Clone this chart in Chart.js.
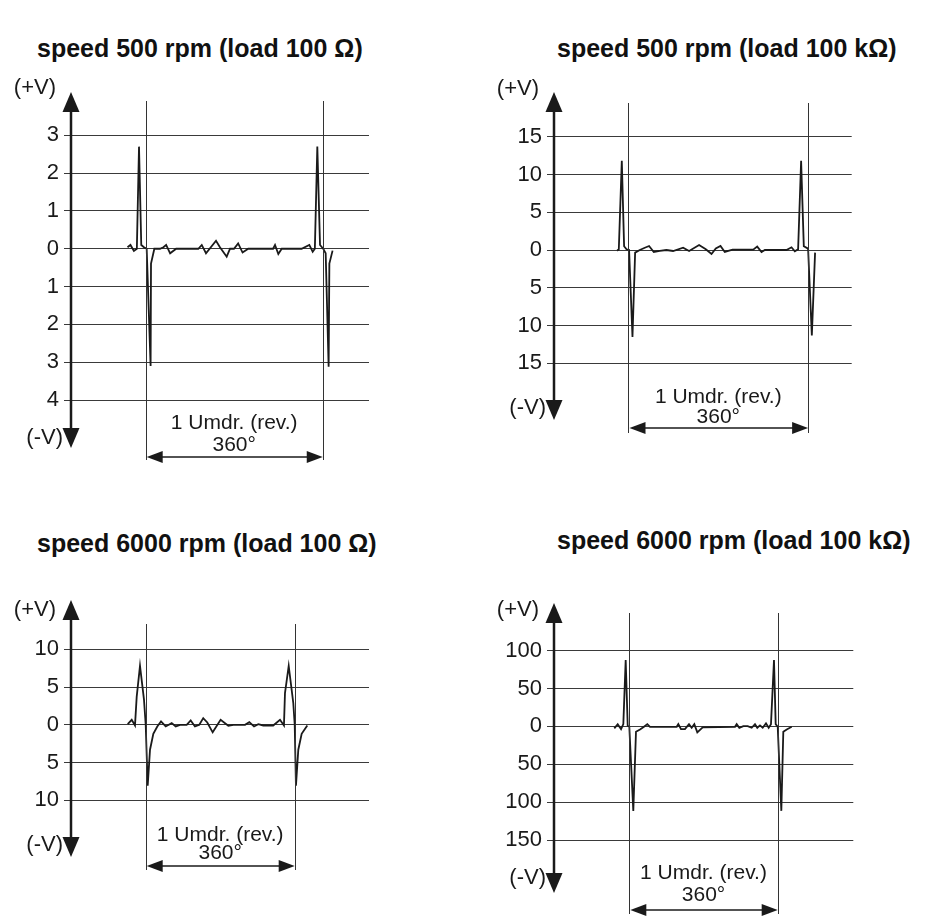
<!DOCTYPE html>
<html>
<head>
<meta charset="utf-8">
<script src="https://cdn.jsdelivr.net/npm/chart.js@4.4.1/dist/chart.umd.min.js"></script>
<style>
  html, body { margin: 0; padding: 0; background: #fff; }
  #page { position: relative; width: 939px; height: 916px; overflow: hidden; }
  canvas { position: absolute; }
  .title {
    position: absolute; white-space: nowrap;
    font: bold 25px 'Liberation Sans', Arial, sans-serif; color: #111;
    transform: translateY(-50%);
  }
</style>
</head>
<body>
<div id="page"></div>
<script>
// Signal traces: x in degrees (0 = first marker line, 360 = next), y in volts

// speed 500 rpm, load 100 Ω
const p1Deg  = [-37, -31, -24, -18, -13.6, -9, -3.5, 2, 10, 10.8, 17.6, 29, 36, 41.6, 49.7, 62, 107, 114, 122.6, 143, 151, 164.7, 171.5, 179.5, 188, 197, 208.5, 259, 263, 269.7, 276.6, 317, 332.7, 339.6, 344, 349, 354.5, 361, 366, 372, 373.5, 380];
const p1Volt = [0.04, 0.1, -0.06, 0, 2.7, 0.1, 0.04, 0, -3.1, -0.39, 0, 0, 0.04, 0.1, -0.12, 0, 0, 0.1, -0.12, 0.21, 0.04, -0.21, 0, 0, 0.14, -0.1, 0, 0, 0.1, -0.14, 0, 0, 0.1, -0.08, 0, 2.7, 0.1, 0, -0.12, -3.12, -0.39, -0.05];
const p1Ticks = [3, 2, 1, 0, -1, -2, -3, -4];

// speed 500 rpm, load 100 kΩ
const p2Deg  = [-22.8, -19.4, -13.4, -8.8, -4, 1.2, 8, 13.3, 22.7, 32.7, 41.3, 50.7, 62.7, 76, 89.4, 109.5, 121.5, 141.5, 155, 166.4, 175, 184.4, 193, 208.5, 250, 258, 266.7, 273.3, 316.7, 326.7, 333.4, 340, 346, 351.4, 360, 367.5, 374];
const p2Volt = [-0.1, 0.1, 11.8, 0.5, 0.1, 0, -11.5, -0.35, 0, 0.3, 0.53, -0.26, -0.13, 0, -0.13, 0.3, -0.13, 0.66, 0.1, -0.53, 0.22, 0.53, -0.26, 0.04, 0.04, 0.45, -0.26, 0, 0, 0.36, -0.18, 0.1, 11.8, 0.5, 0.18, -11.3, -0.35];
const p2Ticks = [15, 10, 5, 0, -5, -10, -15];

// speed 6000 rpm, load 100 Ω
const p3Deg  = [-43.5, -33.8, -25.9, -21.8, -13.8, -4.1, 0, 4.8, 10.4, 18.4, 28, 37, 48.3, 62.8, 72.5, 82.9, 99, 108.7, 119, 129.5, 139, 148.8, 161.8, 181, 199.6, 211.7, 240, 250.3, 261.7, 272, 284, 308, 324.5, 334, 336.5, 345.5, 356.6, 360, 363, 368.7, 376.8, 390.4];
const p3Volt = [0.09, 0.66, -0.09, 3.7, 7.8, 3.3, 0, -8.07, -3.3, -1.2, -0.22, 0.44, -0.22, 0.22, -0.22, 0, 0, 0.57, -0.22, 0, 0.88, 0.31, -1.0, 0.66, -0.13, 0, 0, 0.35, -0.22, 0.09, -0.09, -0.09, 0.66, -0.09, 4.2, 7.8, 2.87, 0, -8.07, -3.3, -1.2, -0.09];
const p3Ticks = [10, 5, 0, -5, -10];

// speed 6000 rpm, load 100 kΩ
const p4Deg  = [-36.4, -28.1, -20, -14.5, -8.8, -3.9, 0, 9.7, 16.2, 26, 35.6, 43.7, 50.2, 115, 118.9, 125.4, 135, 144.8, 151.3, 157.7, 165, 178, 256.4, 260.5, 266.9, 276.6, 287.2, 296.9, 304.9, 310.5, 317, 323.6, 331.6, 338.1, 343.7, 351, 355.1, 360, 368.8, 373.6, 381.9, 394];
const p4Volt = [-2.6, 3, -3.6, 3, 87.6, 0.8, -0.5, -111.5, -7, -4, -0.5, 3, -0.5, -0.5, 3, -3.6, -3.6, 3, -1.8, 3, -7.9, -1.3, -0.5, 3, -1.8, 0.4, 0.4, -1.8, 3, -1.8, 1.3, -1.8, 4, -1.8, 3, 87.6, 3, -0.5, -111.5, -7, -4, -0.5];
const p4Ticks = [100, 50, 0, -50, -100, -150];

const titles = [
    'speed 500 rpm (load 100 Ω)',
    'speed 500 rpm (load 100 kΩ)',
    'speed 6000 rpm (load 100 Ω)',
    'speed 6000 rpm (load 100 kΩ)'
];

const FONT = "'Liberation Sans', Arial, sans-serif";
const INK = '#1a1a1a';
const AXIS_W = 60;

// layout of each quadrant, page pixels
const panels = [
    { deg: p1Deg, volt: p1Volt, ticks: p1Ticks, title: titles[0], titleX: 37, titleY: 48,
      box: [0, 0, 470, 480], axisX: 71, gridRight: 369, topPx: 135.3, botPx: 400,
      xMin: -151.9, xMax: 454.1,
      arrowTop: 92, arrowBottom: 448, vTop: 101, vBottom: 460, dblY: 457, revY: 423, degY: 445, plusY: 88, minusY: 438 },
    { deg: p2Deg, volt: p2Volt, ticks: p2Ticks, title: titles[1], titleX: 557, titleY: 48,
      box: [470, 0, 469, 480], axisX: 554, gridRight: 851.7, topPx: 136.7, botPx: 363.3,
      xMin: -149.3, xMax: 447.4,
      arrowTop: 92, arrowBottom: 420, vTop: 103, vBottom: 433, dblY: 428, revY: 397, degY: 417, plusY: 89, minusY: 408 },
    { deg: p3Deg, volt: p3Volt, ticks: p3Ticks, title: titles[2], titleX: 37, titleY: 543,
      box: [0, 480, 470, 436], axisX: 71, gridRight: 369, topPx: 649.3, botPx: 800.3,
      xMin: -180.5, xMax: 539.5,
      arrowTop: 600, arrowBottom: 857, vTop: 624, vBottom: 870, dblY: 866, revY: 835, degY: 853, plusY: 610, minusY: 845 },
    { deg: p4Deg, volt: p4Volt, ticks: p4Ticks, title: titles[3], titleX: 557, titleY: 540,
      box: [470, 480, 469, 436], axisX: 554, gridRight: 853.3, topPx: 650.7, botPx: 840,
      xMin: -182.7, xMax: 543.4,
      arrowTop: 603, arrowBottom: 893, vTop: 613, vBottom: 914, dblY: 910, revY: 873, degY: 895, plusY: 610, minusY: 878 }
];

// Arrows, revolution markers and their labels
const decorPlugin = {
    id: 'decor',
    afterDraw(chart, args, o) {
        const ctx = chart.ctx;
        const xs = chart.scales.x;
        const ax = chart.chartArea.left;
        const cy = v => v - o.oy;
        const x0 = xs.getPixelForValue(0);
        const x1 = xs.getPixelForValue(360);

        ctx.save();
        ctx.strokeStyle = INK;
        ctx.fillStyle = INK;

        // vertical axis with arrow heads
        ctx.lineWidth = 2.5;
        ctx.beginPath();
        ctx.moveTo(ax, cy(o.arrowTop) + 10);
        ctx.lineTo(ax, cy(o.arrowBottom) - 10);
        ctx.stroke();
        ctx.beginPath();
        ctx.moveTo(ax, cy(o.arrowTop));
        ctx.lineTo(ax - 8.5, cy(o.arrowTop) + 20);
        ctx.lineTo(ax + 8.5, cy(o.arrowTop) + 20);
        ctx.closePath();
        ctx.fill();
        ctx.beginPath();
        ctx.moveTo(ax, cy(o.arrowBottom));
        ctx.lineTo(ax - 8.5, cy(o.arrowBottom) - 20);
        ctx.lineTo(ax + 8.5, cy(o.arrowBottom) - 20);
        ctx.closePath();
        ctx.fill();

        // one-revolution marker lines
        ctx.lineWidth = 1;
        ctx.strokeStyle = '#333';
        [x0, x1].forEach(x => {
            ctx.beginPath();
            ctx.moveTo(Math.round(x) + 0.5, cy(o.vTop));
            ctx.lineTo(Math.round(x) + 0.5, cy(o.vBottom));
            ctx.stroke();
        });

        // double arrow
        const dy = cy(o.dblY);
        ctx.strokeStyle = INK;
        ctx.lineWidth = 1.5;
        ctx.beginPath();
        ctx.moveTo(x0 + 10, dy);
        ctx.lineTo(x1 - 10, dy);
        ctx.stroke();
        ctx.beginPath();
        ctx.moveTo(x0 + 1, dy);
        ctx.lineTo(x0 + 17, dy - 6);
        ctx.lineTo(x0 + 17, dy + 6);
        ctx.closePath();
        ctx.fill();
        ctx.beginPath();
        ctx.moveTo(x1, dy);
        ctx.lineTo(x1 - 16, dy - 6);
        ctx.lineTo(x1 - 16, dy + 6);
        ctx.closePath();
        ctx.fill();

        // labels
        ctx.font = '21px ' + FONT;
        ctx.textBaseline = 'middle';
        ctx.textAlign = 'center';
        const mid = (x0 + x1) / 2;
        ctx.fillText('1 Umdr. (rev.)', mid, cy(o.revY));
        ctx.fillText('360°', mid, cy(o.degY));
        ctx.textAlign = 'right';
        ctx.font = '22px ' + FONT;
        ctx.fillText('(+V)', ax - 15, cy(o.plusY));
        ctx.fillText('(-V)', ax - 8, cy(o.minusY));
        ctx.restore();
    }
};

const page = document.getElementById('page');

panels.forEach((p, i) => {
    const [ox, oy, w, h] = p.box;

    const t = document.createElement('div');
    t.className = 'title';
    t.textContent = p.title;
    t.style.left = p.titleX + 'px';
    t.style.top = p.titleY + 'px';
    page.appendChild(t);

    const canvas = document.createElement('canvas');
    canvas.width = w;
    canvas.height = h;
    canvas.style.left = ox + 'px';
    canvas.style.top = oy + 'px';
    page.appendChild(canvas);

    new Chart(canvas.getContext('2d'), {
        type: 'line',
        data: {
            datasets: [{
                data: p.deg.map((x, k) => ({ x: x, y: p.volt[k] })),
                borderColor: INK,
                borderWidth: 1.8,
                pointRadius: 0,
                tension: 0,
                clip: false
            }]
        },
        options: {
            responsive: false,
            animation: false,
            events: [],
            layout: {
                padding: {
                    left: p.axisX - ox - AXIS_W,
                    right: w - (p.gridRight - ox),
                    top: p.topPx - oy,
                    bottom: h - (p.botPx - oy)
                }
            },
            plugins: {
                legend: { display: false },
                title: { display: false },
                tooltip: { enabled: false },
                decor: {
                    oy: oy,
                    arrowTop: p.arrowTop, arrowBottom: p.arrowBottom,
                    vTop: p.vTop, vBottom: p.vBottom, dblY: p.dblY,
                    revY: p.revY, degY: p.degY, plusY: p.plusY, minusY: p.minusY
                }
            },
            scales: {
                x: {
                    type: 'linear',
                    display: false,
                    min: p.xMin,
                    max: p.xMax
                },
                y: {
                    min: p.ticks[p.ticks.length - 1],
                    max: p.ticks[0],
                    afterFit: scale => { scale.width = AXIS_W; },
                    afterBuildTicks: scale => {
                        scale.ticks = p.ticks.map(v => ({ value: v }));
                    },
                    border: { display: false },
                    grid: {
                        color: '#3a3a3a',
                        lineWidth: 1,
                        tickLength: 7,
                        drawTicks: true
                    },
                    ticks: {
                        padding: 5,
                        color: INK,
                        font: { family: FONT, size: 22 },
                        callback: v => Math.abs(v)
                    }
                }
            }
        },
        plugins: [decorPlugin]
    });
});
</script>
</body>
</html>
